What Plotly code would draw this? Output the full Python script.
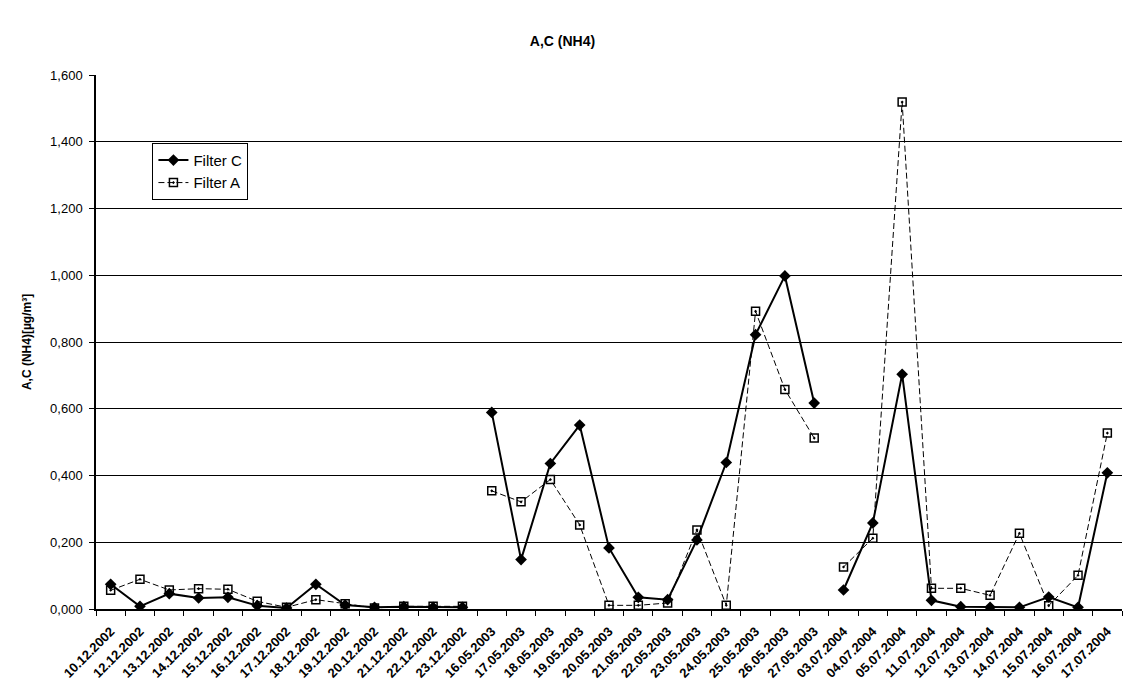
import plotly.graph_objects as go

dates = ["10.12.2002", "12.12.2002", "13.12.2002", "14.12.2002", "15.12.2002", "16.12.2002",
         "17.12.2002", "18.12.2002", "19.12.2002", "20.12.2002", "21.12.2002", "22.12.2002",
         "23.12.2002",
         "16.05.2003", "17.05.2003", "18.05.2003", "19.05.2003", "20.05.2003", "21.05.2003",
         "22.05.2003", "23.05.2003", "24.05.2003", "25.05.2003", "26.05.2003", "27.05.2003",
         "03.07.2004", "04.07.2004", "05.07.2004", "11.07.2004", "12.07.2004", "13.07.2004",
         "14.07.2004", "15.07.2004", "16.07.2004", "17.07.2004"]

# campaign index of each date (lines are not connected across campaigns)
campaign = [0] * 13 + [1] * 12 + [2] * 10

filter_c = [0.074, 0.008, 0.046, 0.033, 0.035, 0.010, 0.003, 0.074, 0.012, 0.005, 0.007, 0.005, 0.005,
            0.589, 0.148, 0.436, 0.551, 0.183, 0.035, 0.028, 0.207, 0.439, 0.822, 0.998, 0.617,
            0.057, 0.258, 0.703, 0.026, 0.007, 0.005, 0.005, 0.036, 0.005, 0.408]

filter_a = [0.056, 0.089, 0.057, 0.061, 0.059, 0.023, 0.005, 0.028, 0.016, 0.003, 0.008, 0.008, 0.008,
            0.354, 0.321, 0.388, 0.252, 0.011, 0.011, 0.018, 0.237, 0.011, 0.892, 0.658, 0.512,
            0.126, 0.212, 1.519, 0.062, 0.062, 0.041, 0.227, 0.010, 0.101, 0.527]

fig = go.Figure()

def add_series(name, values, line, marker):
    for k, c in enumerate(sorted(set(campaign))):
        xs = [d for d, g in zip(dates, campaign) if g == c]
        ys = [v for v, g in zip(values, campaign) if g == c]
        fig.add_trace(go.Scatter(
            x=xs, y=ys, mode="lines+markers", name=name,
            legendgroup=name, showlegend=(k == 0),
            line=line, marker=marker))

add_series("Filter C", filter_c,
           dict(color="black", width=2),
           dict(symbol="diamond", size=9, color="black"))
add_series("Filter A", filter_a,
           dict(color="black", width=1, dash="6px,3px"),
           dict(symbol="square-open-dot", size=8, color="black", line=dict(width=1.5)))

font_family = "Liberation Sans, Arial, sans-serif"

fig.update_layout(
    width=1125, height=690,
    paper_bgcolor="white", plot_bgcolor="white",
    margin=dict(l=96, r=3, t=75, b=81),
    separators=",.",
    font=dict(family=font_family, color="black", size=11),
    title=dict(text="<b>A,C (NH4)</b>", x=0.5, xanchor="center", y=0.94, yanchor="middle",
               font=dict(size=14, family=font_family)),
    showlegend=True,
    legend=dict(x=0.055, y=0.873, xanchor="left", yanchor="top",
                bordercolor="black", borderwidth=1, bgcolor="white",
                font=dict(size=15, family=font_family), tracegroupgap=0),
    xaxis=dict(
        type="category", categoryorder="array", categoryarray=dates,
        tickangle=-45, tickson="boundaries", ticks="outside", ticklen=5,
        tickcolor="black", showline=True, linecolor="black", linewidth=1.5,
        showgrid=False, tickfont=dict(size=13, weight="bold", family=font_family),
        ticklabelstandoff=8,
        range=[-0.5, len(dates) - 0.5]),
    yaxis=dict(
        range=[0, 1.6], dtick=0.2, tickformat=".3f",
        ticks="outside", ticklen=5, tickcolor="black",
        showline=True, linecolor="black", linewidth=1.5,
        showgrid=True, gridcolor="black", gridwidth=1, zeroline=False,
        tickfont=dict(size=13, family=font_family), ticklabelstandoff=4,
        title=dict(text="<b>A,C (NH4)[µg/m³]</b>", font=dict(size=12, family=font_family),
                   standoff=16)),
)

fig.write_html("out.html")
